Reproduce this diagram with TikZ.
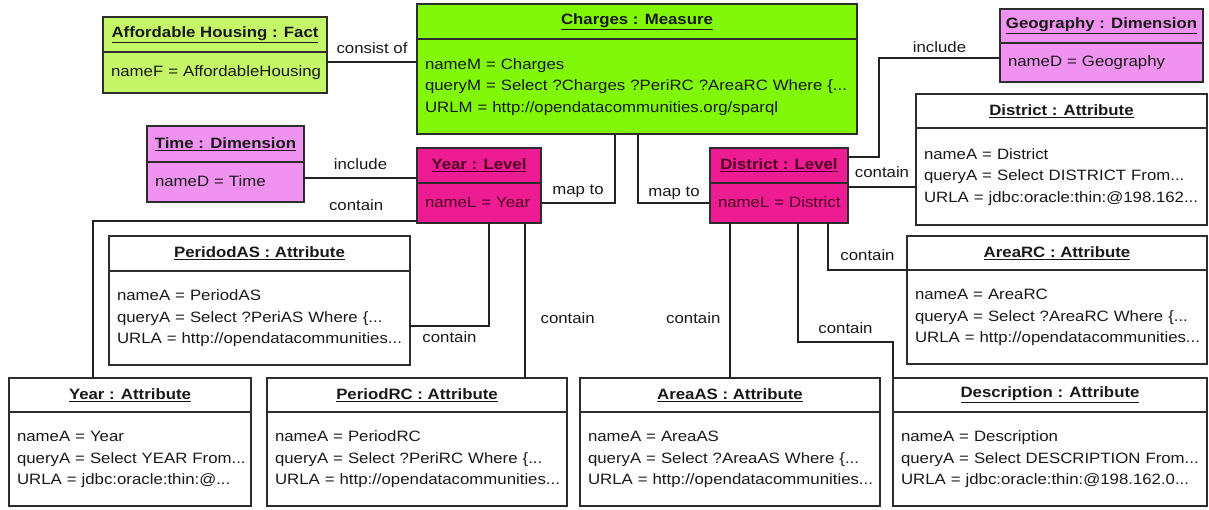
\documentclass[tikz,border=0pt]{standalone}
\usepackage{fontspec}
\setmainfont{Liberation Sans}[FakeStretch=1.12]
\usetikzlibrary{positioning}
\definecolor{factColor}{RGB}{196,246,104}
\definecolor{measureColor}{RGB}{128,248,8}
\definecolor{dimColor}{RGB}{240,146,240}
\definecolor{levelColor}{RGB}{238,28,146}
\definecolor{levelText}{RGB}{80,0,35}
\definecolor{boxLine}{RGB}{45,45,45}
\definecolor{relLine}{RGB}{35,35,35}
\newcommand{\attrs}[1]{\begin{tabular}{@{}l@{}}#1\end{tabular}}

\begin{document}
\begin{tikzpicture}[x=1pt,y=-1pt]

  \tikzstyle{every node} = [font=\fontsize{15}{21.5}\selectfont, text=black!90];
  \tikzstyle{headBox} = [draw=boxLine, line width=1.3pt, outer sep=0pt, inner sep=0pt, anchor=north west];
  \tikzstyle{bodyBox} = [draw=boxLine, line width=1.3pt, outer sep=0pt, inner xsep=8pt, inner ysep=0pt, align=left];
  \tikzstyle{relation} = [draw=relLine, line width=1.2pt];
  \tikzstyle{relName} = [inner sep=2pt, text height=11pt, text depth=3pt];

  \useasboundingbox (0,0) rectangle (1209,510);

  % fact, measure, dimensions
  \node[headBox, fill=factColor, minimum width=224pt, minimum height=35pt] (fact) at (103,17) {\underline{\textbf{Affordable Housing : Fact}}};
  \node[bodyBox, fill=factColor, text width=208pt, minimum height=41pt, below=0pt of fact] (factB) {\attrs{nameF = AffordableHousing}};

  \node[headBox, fill=measureColor, minimum width=440pt, minimum height=35pt] (charges) at (417,4) {\underline{\textbf{Charges : Measure}}};
  \node[bodyBox, fill=measureColor, text width=424pt, minimum height=95pt, below=0pt of charges] (chargesB) {\attrs{nameM = Charges\\ queryM = Select ?Charges ?PeriRC ?AreaRC Where \{...\\ URLM = http://opendatacommunities.org/sparql}};

  \node[headBox, fill=dimColor, minimum width=203pt, minimum height=34pt] (geo) at (1000,9) {\underline{\textbf{Geography : Dimension}}};
  \node[bodyBox, fill=dimColor, text width=187pt, minimum height=39pt, below=0pt of geo] (geoB) {\attrs{nameD = Geography}};

  \node[headBox, fill=dimColor, minimum width=157pt, minimum height=36pt] (time) at (147,126) {\underline{\textbf{Time : Dimension}}};
  \node[bodyBox, fill=dimColor, text width=141pt, minimum height=40pt, below=0pt of time] (timeB) {\attrs{nameD = Time}};

  % levels
  \node[headBox, fill=levelColor, text=levelText, minimum width=124pt, minimum height=35pt] (yearL) at (417,148) {\underline{\textbf{Year : Level}}};
  \node[bodyBox, fill=levelColor, text=levelText, text width=108pt, minimum height=40pt, below=0pt of yearL] (yearLB) {\attrs{nameL = Year}};

  \node[headBox, fill=levelColor, text=levelText, minimum width=138pt, minimum height=35pt] (distL) at (710,148) {\underline{\textbf{District : Level}}};
  \node[bodyBox, fill=levelColor, text=levelText, text width=122pt, minimum height=40pt, below=0pt of distL] (distLB) {\attrs{nameL = District}};

  % attributes
  \node[headBox, fill=white, minimum width=291pt, minimum height=34pt] (distA) at (916,94) {\underline{\textbf{District : Attribute}}};
  \node[bodyBox, fill=white, text width=275pt, minimum height=97pt, below=0pt of distA] (distAB) {\attrs{nameA = District\\ queryA = Select DISTRICT From...\\ URLA = jdbc:oracle:thin:@198.162...}};

  \node[headBox, fill=white, minimum width=301pt, minimum height=35pt] (periAS) at (109,236) {\underline{\textbf{PeridodAS : Attribute}}};
  \node[bodyBox, fill=white, text width=285pt, minimum height=94pt, below=0pt of periAS] (periASB) {\attrs{nameA = PeriodAS\\ queryA = Select ?PeriAS Where \{...\\ URLA = http://opendatacommunities...}};

  \node[headBox, fill=white, minimum width=300pt, minimum height=34pt] (areaRC) at (907,236) {\underline{\textbf{AreaRC : Attribute}}};
  \node[bodyBox, fill=white, text width=284pt, minimum height=94pt, below=0pt of areaRC] (areaRCB) {\attrs{nameA = AreaRC\\ queryA = Select ?AreaRC Where \{...\\ URLA = http://opendatacommunities...}};

  \node[headBox, fill=white, minimum width=242pt, minimum height=34pt] (yearA) at (9,378) {\underline{\textbf{Year : Attribute}}};
  \node[bodyBox, fill=white, text width=226pt, minimum height=94pt, below=0pt of yearA] (yearAB) {\attrs{nameA = Year\\ queryA = Select YEAR From...\\ URLA = jdbc:oracle:thin:@...}};

  \node[headBox, fill=white, minimum width=300pt, minimum height=34pt] (periRC) at (267,378) {\underline{\textbf{PeriodRC : Attribute}}};
  \node[bodyBox, fill=white, text width=284pt, minimum height=94pt, below=0pt of periRC] (periRCB) {\attrs{nameA = PeriodRC\\ queryA = Select ?PeriRC Where \{...\\ URLA = http://opendatacommunities...}};

  \node[headBox, fill=white, minimum width=300pt, minimum height=34pt] (areaAS) at (580,378) {\underline{\textbf{AreaAS : Attribute}}};
  \node[bodyBox, fill=white, text width=284pt, minimum height=94pt, below=0pt of areaAS] (areaASB) {\attrs{nameA = AreaAS\\ queryA = Select ?AreaAS Where \{...\\ URLA = http://opendatacommunities...}};

  \node[headBox, fill=white, minimum width=314pt, minimum height=34pt] (descA) at (893,378) {\underline{\textbf{Description : Attribute}}};
  \node[bodyBox, fill=white, text width=298pt, minimum height=94pt, below=0pt of descA] (descAB) {\attrs{nameA = Description\\ queryA = Select DESCRIPTION From...\\ URLA = jdbc:oracle:thin:@198.162.0...}};

  % relations
  \draw[relation] ([yshift=10.5pt]factB.east) -- node[above=3pt, relName] {consist of} ([yshift=10.5pt]factB.east -| chargesB.west);
  \draw[relation] ([yshift=4pt]timeB.east) -- node[above=3pt, relName] {include} ([yshift=4pt]timeB.east -| yearL.west);
  \draw[relation] ([yshift=-18pt]yearLB.west) -| node[pos=0.094, above=5pt, relName] {contain} ([xshift=-37pt]yearA.north);
  \draw[relation] ([xshift=-22pt]chargesB.south) |- node[pos=0.75, above=3pt, relName] {map to} (yearLB.east);
  \draw[relation] ([xshift=1pt]chargesB.south) |- node[pos=0.75, above=1pt, relName] {map to} (distLB.west);
  \draw[relation] ([yshift=4.5pt]geoB.west) -- node[above=0pt, relName] {include} ++(-121,0) |- ([yshift=8.5pt]distL.east);
  \draw[relation] ([yshift=16pt]distLB.east) -- node[above=4pt, relName] {contain} ([yshift=16pt]distLB.east -| distAB.west);
  \draw[relation] ([xshift=10pt]yearLB.south) |- node[pos=0.75, below=3pt, relName] {contain} ([yshift=-8pt]periASB.east);
  \draw[relation] ([xshift=46pt]yearLB.south) -- node[pos=0.62, right=13pt, relName] {contain} ([xshift=108pt]periRC.north);
  \draw[relation] ([xshift=-49pt]distLB.south) -- node[pos=0.62, left=7pt, relName] {contain} (areaAS.north);
  \draw[relation] ([xshift=19pt]distLB.south) -- ++(0,119) -| node[pos=0.25, above=3pt, relName] {contain} (descA.north west);
  \draw[relation] ([xshift=49pt]distLB.south) |- node[pos=0.75, above=4pt, relName] {contain} (areaRC.south west);

\end{tikzpicture}
\end{document}
